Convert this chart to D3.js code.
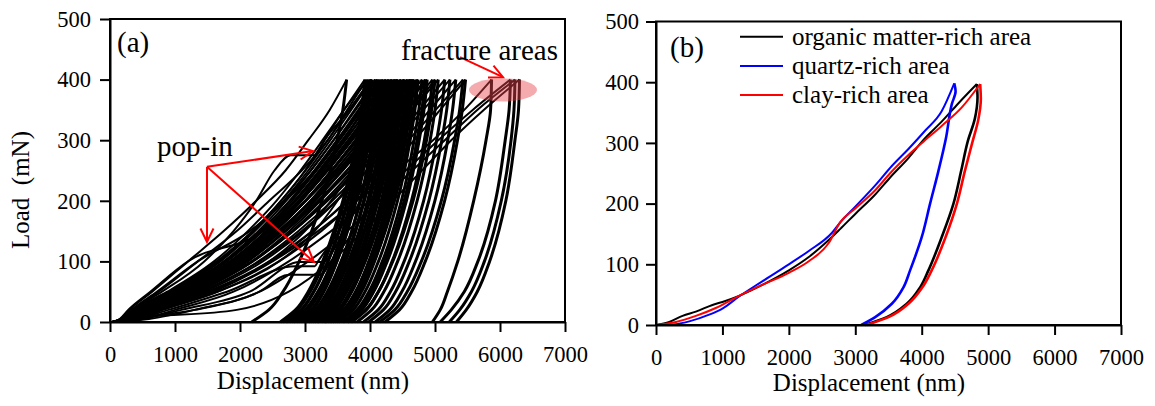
<!DOCTYPE html>
<html>
<head>
<meta charset="utf-8">
<title>Load-displacement curves</title>
<script src="https://d3js.org/d3.v7.min.js"></script>
<style>
  body { margin: 0; background: #fff; }
  text { font-family: "Liberation Serif", "Times New Roman", serif; fill: #000; }
</style>
</head>
<body>
<svg id="chart" width="1155" height="406"></svg>
<script>
// ---- axis ticks ----
var xTicks = [0, 1000, 2000, 3000, 4000, 5000, 6000, 7000];
var yTicks = [0, 100, 200, 300, 400, 500];

// ---- panel (a): displacement (nm) read at fixed load levels (mN) ----
var loadLevels = [0, 5, 20, 50, 100, 150, 200, 250, 300, 350, 400];
var unloadLevels = [400, 350, 300, 200, 100, 50, 20, 0];

var loadingA = [
  [30, 160, 300, 650, 1200, 1750, 2250, 2700, 3050, 3380, 3640],
  [40, 190, 350, 750, 1350, 1950, 2450, 2950, 3350, 3650, 3950],
  [20, 150, 280, 620, 1200, 2350, 2850, 3250, 3600, 3880, 4120],
  [30, 170, 330, 720, 1350, 2150, 2700, 3150, 3520, 3830, 4080],
  [30, 180, 350, 800, 1450, 1900, 2250, 2530, 3300, 3680, 4020],
  [60, 500, 1100, 2150, 3300, 3600, 3850, 4080, 4280, 4470, 4650],
  [50, 600, 1300, 2300, 3400, 3750, 4020, 4260, 4470, 4670, 4850],
  [40, 420, 900, 1800, 3200, 3520, 3780, 4000, 4170, 4300, 4400],
  [50, 380, 800, 1650, 2600, 3150, 3500, 3800, 4060, 4300, 4520],
  [60, 340, 700, 1500, 2450, 3000, 3400, 3740, 4050, 4340, 4620],
  [40, 210, 400, 955, 1670, 2190, 2630, 3000, 3300, 3600, 3980],
  [50, 220, 420, 980, 1700, 2230, 2670, 3050, 3390, 3710, 4030],
  [40, 200, 380, 920, 1640, 2200, 2680, 3090, 3440, 3760, 4080],
  [60, 240, 450, 1050, 1780, 2320, 2760, 3140, 3490, 3820, 4150],
  [50, 230, 430, 1000, 1760, 2310, 2770, 3170, 3530, 3870, 4200],
  [70, 250, 480, 1100, 1850, 2400, 2840, 3220, 3580, 3920, 4250],
  [40, 210, 400, 980, 1780, 2350, 2840, 3250, 3620, 3960, 4300],
  [80, 280, 520, 1150, 1900, 2450, 2900, 3290, 3660, 4000, 4340],
  [60, 250, 470, 1080, 1850, 2420, 2900, 3320, 3700, 4050, 4390],
  [50, 230, 440, 1050, 1860, 2440, 2930, 3350, 3730, 4090, 4430],
  [90, 300, 560, 1200, 1980, 2540, 3000, 3400, 3780, 4130, 4480],
  [70, 270, 500, 1130, 1930, 2510, 3000, 3420, 3810, 4170, 4530],
  [60, 250, 470, 1100, 1930, 2520, 3020, 3460, 3850, 4220, 4580],
  [100, 320, 600, 1250, 2050, 2620, 3090, 3520, 3900, 4270, 4630],
  [80, 290, 540, 1180, 2000, 2590, 3090, 3530, 3930, 4310, 4680],
  [70, 270, 500, 1150, 1990, 2600, 3120, 3580, 3990, 4370, 4740],
  [110, 340, 620, 1300, 2120, 2710, 3200, 3640, 4040, 4420, 4800],
  [90, 300, 560, 1230, 2080, 2700, 3220, 3690, 4100, 4490, 4880],
  [120, 360, 650, 1350, 2200, 2820, 3330, 3780, 4180, 4570, 4960],
  [100, 330, 600, 1300, 2180, 2820, 3350, 3820, 4250, 4650, 5050],
  [140, 390, 700, 1450, 2350, 2980, 3490, 3950, 4360, 4760, 5150],
  [120, 360, 660, 1400, 2300, 2950, 3480, 3960, 4400, 4820, 5230],
  [150, 420, 750, 1550, 2480, 3120, 3640, 4100, 4520, 4920, 5320],
  [130, 390, 700, 1500, 2450, 3110, 3660, 4150, 4590, 5010, 5430],
  [160, 450, 800, 1650, 2600, 3250, 3780, 4250, 4680, 5080, 5470],
  [30, 180, 360, 880, 1600, 2120, 2560, 2930, 3270, 3600, 3920],
  [40, 200, 420, 960, 1680, 2200, 2630, 3010, 3350, 3680, 4010],
  [50, 230, 460, 1020, 1750, 2280, 2710, 3090, 3440, 3780, 4110],
  [40, 220, 450, 1030, 1800, 2350, 2800, 3180, 3530, 3860, 4180],
  [60, 260, 520, 1120, 1870, 2400, 2840, 3220, 3570, 3910, 4230],
  [50, 240, 480, 1080, 1850, 2400, 2860, 3260, 3620, 3960, 4280],
  [70, 290, 560, 1180, 1950, 2500, 2950, 3330, 3680, 4010, 4330],
  [40, 230, 470, 1090, 1900, 2470, 2940, 3350, 3720, 4050, 4370],
  [80, 300, 580, 1200, 1990, 2550, 3010, 3410, 3770, 4100, 4420],
  [60, 270, 530, 1150, 1950, 2530, 3010, 3420, 3790, 4140, 4470],
  [90, 320, 620, 1250, 2050, 2620, 3080, 3480, 3840, 4190, 4520],
  [70, 290, 560, 1180, 2000, 2600, 3090, 3510, 3880, 4230, 4570],
  [100, 340, 660, 1300, 2120, 2690, 3160, 3560, 3930, 4280, 4610],
  [80, 310, 600, 1240, 2060, 2650, 3150, 3580, 3960, 4320, 4660],
  [110, 360, 700, 1350, 2180, 2760, 3240, 3650, 4020, 4380, 4720],
  [100, 350, 680, 1330, 2200, 2800, 3300, 3730, 4110, 4480, 4850],
  [120, 380, 720, 1400, 2280, 2900, 3420, 3870, 4260, 4640, 5000],
  [50, 400, 800, 1600, 2500, 3200, 3800, 4400, 4970, 5450, 5870],
  [50, 500, 1000, 1900, 2750, 3400, 4000, 4550, 5050, 5580, 6160],
  [50, 300, 1300, 2300, 3050, 3650, 4150, 4650, 5150, 5650, 6230],
  [50, 280, 1950, 2750, 3400, 3900, 4350, 4800, 5250, 5750, 6300]
];

var unloadingA = [
  [3640, 3582, 3494, 3260, 2910, 2662, 2443, 2180],
  [3950, 3900, 3820, 3610, 3300, 3080, 2880, 2650],
  [4120, 4067, 3988, 3777, 3460, 3236, 3038, 2800],
  [4080, 4027, 3948, 3737, 3420, 3196, 2998, 2760],
  [4020, 3972, 3900, 3708, 3420, 3216, 3036, 2820],
  [4650, 4602, 4530, 4338, 4050, 3846, 3666, 3450],
  [4850, 4802, 4730, 4538, 4250, 4046, 3866, 3650],
  [4400, 4352, 4280, 4088, 3800, 3596, 3416, 3200],
  [4520, 4472, 4400, 4208, 3920, 3716, 3536, 3300],
  [4620, 4571, 4498, 4303, 4010, 3803, 3620, 3400],
  [3980, 3930, 3854, 3652, 3350, 3136, 2947, 2720],
  [4030, 3982, 3909, 3715, 3425, 3219, 3038, 2820],
  [4080, 4033, 3962, 3773, 3490, 3289, 3112, 2900],
  [4150, 4103, 4033, 3846, 3565, 3366, 3191, 2980],
  [4200, 4154, 4085, 3901, 3625, 3430, 3257, 3050],
  [4250, 4198, 4120, 3912, 3600, 3379, 3184, 2950],
  [4300, 4253, 4182, 3993, 3710, 3509, 3332, 3120],
  [4340, 4294, 4224, 4038, 3760, 3563, 3389, 3180],
  [4390, 4338, 4259, 4049, 3735, 3512, 3316, 3080],
  [4430, 4383, 4312, 4123, 3840, 3639, 3462, 3250],
  [4480, 4433, 4362, 4173, 3890, 3689, 3512, 3300],
  [4530, 4477, 4397, 4184, 3865, 3639, 3439, 3200],
  [4580, 4532, 4460, 4268, 3980, 3776, 3596, 3380],
  [4630, 4582, 4510, 4318, 4030, 3826, 3646, 3430],
  [4680, 4627, 4547, 4334, 4015, 3789, 3589, 3350],
  [4740, 4691, 4618, 4423, 4130, 3923, 3740, 3520],
  [4800, 4751, 4678, 4483, 4190, 3983, 3800, 3580],
  [4880, 4831, 4757, 4560, 4265, 4056, 3871, 3650],
  [4960, 4910, 4836, 4638, 4340, 4129, 3943, 3720],
  [5050, 5000, 4925, 4725, 4425, 4213, 4025, 3800],
  [5150, 5100, 5025, 4825, 4525, 4313, 4125, 3900],
  [5230, 5180, 5105, 4905, 4605, 4393, 4205, 3980],
  [5320, 5270, 5196, 4998, 4700, 4489, 4303, 4080],
  [5430, 5379, 5302, 5097, 4790, 4572, 4380, 4150],
  [5470, 5420, 5346, 5148, 4850, 4639, 4453, 4230],
  [3920, 3868, 3790, 3582, 3270, 3049, 2854, 2620],
  [4010, 3958, 3879, 3669, 3355, 3132, 2936, 2700],
  [4110, 4060, 3986, 3788, 3490, 3279, 3093, 2870],
  [4180, 4130, 4055, 3855, 3555, 3343, 3155, 2930],
  [4230, 4181, 4107, 3910, 3615, 3406, 3221, 3000],
  [4280, 4231, 4158, 3963, 3670, 3463, 3280, 3060],
  [4330, 4277, 4198, 3987, 3670, 3446, 3248, 3010],
  [4370, 4321, 4247, 4050, 3755, 3546, 3361, 3140],
  [4420, 4371, 4298, 4103, 3810, 3603, 3420, 3200],
  [4470, 4417, 4338, 4127, 3810, 3586, 3388, 3150],
  [4520, 4472, 4400, 4208, 3920, 3716, 3536, 3320],
  [4570, 4518, 4441, 4235, 3925, 3706, 3512, 3280],
  [4610, 4562, 4491, 4301, 4015, 3813, 3634, 3420],
  [4660, 4613, 4542, 4353, 4070, 3869, 3692, 3480],
  [4720, 4667, 4588, 4377, 4060, 3836, 3638, 3400],
  [4850, 4800, 4725, 4525, 4225, 4013, 3825, 3600],
  [5000, 4948, 4870, 4662, 4350, 4129, 3934, 3700],
  [5870, 5855, 5785, 5595, 5350, 5190, 5080, 4960],
  [6160, 6140, 6080, 5930, 5660, 5450, 5250, 5080],
  [6230, 6215, 6170, 6020, 5760, 5560, 5380, 5220],
  [6300, 6285, 6230, 6090, 5840, 5650, 5480, 5330]
];

// pop-in plateaus: [curve index, load, start displacement, end displacement]
var popInsA = [
  [4, 275, 2780, 3150],
  [5, 99, 2920, 3280],
  [6, 78, 2750, 3250],
  [7, 92, 2850, 3150]
];

// annotations, data coordinates: [x0, y0, x1 (tip), y1 (tip)]
var arrowsA = [
  [1492, 256, 1492, 132],
  [1492, 256, 3123, 282],
  [1492, 256, 3138, 99],
  [5385, 437, 6046, 404]
];
var fractureZone = { cx: 6046, cy: 383, rx: 523, ry: 19 };

// ---- panel (b) ----
var legendNames = ['organic matter-rich area', 'quartz-rich area', 'clay-rich area'];
var seriesColors = ['#000000', '#0000ff', '#ff0000'];

var organicLoad = [[0, 0], [200, 5], [400, 15], [600, 22], [850, 33], [1000, 38], [1250, 48], [1600, 66],
  [2000, 90], [2300, 112], [2600, 140], [2771, 158], [3000, 183], [3300, 215], [3524, 243], [3800, 275],
  [4026, 305], [4300, 335], [4550, 365], [4830, 397]];
var organicUnload = [[3140, 0], [3474, 13], [3775, 35], [3976, 62], [4101, 90], [4302, 145], [4478, 200],
  [4594, 254], [4694, 303], [4800, 340], [4840, 375], [4830, 397]];

var quartzLoad = [[0, 0], [250, 1], [500, 6], [800, 17], [1000, 27], [1250, 47], [1600, 72], [2000, 100],
  [2300, 122], [2650, 152], [2780, 170], [3000, 195], [3300, 230], [3550, 262], [3800, 290], [4050, 320],
  [4300, 352], [4490, 398]];
var quartzUnload = [[3090, 0], [3300, 13], [3550, 35], [3725, 62], [3825, 90], [4001, 145], [4126, 200],
  [4252, 254], [4367, 309], [4453, 364], [4510, 385], [4490, 398]];

var clayLoad = [[0, 0], [300, 5], [600, 15], [900, 28], [1250, 48], [1600, 66], [2000, 86], [2300, 105],
  [2600, 135], [2771, 169], [3000, 192], [3300, 222], [3524, 250], [3800, 280], [4026, 302], [4300, 328],
  [4600, 358], [4880, 397]];
var clayUnload = [[3170, 0], [3500, 13], [3800, 35], [4010, 62], [4150, 90], [4360, 145], [4530, 200],
  [4650, 254], [4760, 300], [4855, 340], [4890, 372], [4880, 397]];

var svg = d3.select('#chart');
var FONT = '"Liberation Serif", "Times New Roman", serif';

function drawAxes(x, y, yPad) {
  var g = svg.append('g');
  var gx = g.append('g')
    .attr('transform', 'translate(0,' + y(0) + ')')
    .call(d3.axisBottom(x).tickValues(xTicks).tickSize(10).tickSizeOuter(0).tickPadding(14).tickFormat(d3.format('d')));
  var gy = g.append('g')
    .attr('transform', 'translate(' + x(0) + ',0)')
    .call(d3.axisLeft(y).tickValues(yTicks).tickSize(10).tickSizeOuter(0).tickPadding(yPad));
  [gx, gy].forEach(function(a) {
    a.attr('font-size', 22.5).attr('font-family', FONT);
    a.selectAll('.domain, .tick line').attr('stroke', '#000').attr('stroke-width', 2);
    a.selectAll('.tick text').attr('fill', '#000');
  });
  g.append('rect')
    .attr('x', x(0)).attr('y', y(500))
    .attr('width', x(7000) - x(0)).attr('height', y(0) - y(500))
    .attr('fill', 'none').attr('stroke', '#000').attr('stroke-width', 2);
  return g;
}

// ---------- panel (a) ----------
var xa = d3.scaleLinear().domain([0, 7000]).range([110, 565]);
var ya = d3.scaleLinear().domain([0, 500]).range([322, 19]);

var lineA = d3.line().x(function(d) { return xa(d[0]); }).y(function(d) { return ya(d[1]); })
  .curve(d3.curveMonotoneX);
var lineAU = d3.line().x(function(d) { return xa(d[0]); }).y(function(d) { return ya(d[1]); })
  .curve(d3.curveMonotoneY);

var curvesA = svg.append('g').attr('fill', 'none').attr('stroke', '#000')
  .attr('stroke-linejoin', 'round');

loadingA.forEach(function(disp, i) {
  var pts = loadLevels.map(function(L, j) { return [disp[j], L]; });
  popInsA.filter(function(p) { return p[0] === i; }).forEach(function(p) {
    pts.push([p[2], p[1]], [p[3], p[1]]);
  });
  pts.sort(function(a, b) { return a[0] - b[0]; });
  curvesA.append('path').attr('d', lineA(pts)).attr('stroke-width', 2);

  var up = unloadLevels.map(function(L, j) { return [unloadingA[i][j], L]; });
  up.sort(function(a, b) { return a[1] - b[1]; });
  curvesA.append('path').attr('d', lineAU(up)).attr('stroke-width', 3);
});

drawAxes(xa, ya, 9);

svg.append('ellipse')
  .attr('cx', xa(fractureZone.cx)).attr('cy', ya(fractureZone.cy))
  .attr('rx', xa(fractureZone.rx) - xa(0)).attr('ry', ya(0) - ya(fractureZone.ry))
  .attr('fill', '#e8454a').attr('fill-opacity', 0.45);

function arrow(a) {
  var x0 = xa(a[0]), y0 = ya(a[1]), x1 = xa(a[2]), y1 = ya(a[3]);
  var ang = Math.atan2(y1 - y0, x1 - x0), len = 15, spread = 0.45;
  svg.append('line').attr('x1', x0).attr('y1', y0).attr('x2', x1).attr('y2', y1)
    .attr('stroke', '#ff0000').attr('stroke-width', 2);
  var head = [
    [x1 - len * Math.cos(ang - spread), y1 - len * Math.sin(ang - spread)],
    [x1, y1],
    [x1 - len * Math.cos(ang + spread), y1 - len * Math.sin(ang + spread)]
  ];
  svg.append('polyline').attr('points', head.join(' '))
    .attr('fill', 'none').attr('stroke', '#ff0000').attr('stroke-width', 2);
}
arrowsA.forEach(arrow);

svg.append('text').attr('x', 117).attr('y', 52).attr('font-size', 29).text('(a)');
svg.append('text').attr('x', 401).attr('y', 60).attr('font-size', 29).text('fracture areas');
svg.append('text').attr('x', 157).attr('y', 156).attr('font-size', 29).text('pop-in');
svg.append('text').attr('x', 313).attr('y', 389).attr('font-size', 25)
  .attr('text-anchor', 'middle').text('Displacement (nm)');
svg.append('text').attr('transform', 'translate(29,190) rotate(-90)')
  .attr('font-size', 25).attr('text-anchor', 'middle').style('white-space', 'pre')
  .text('Load  (mN)');

// ---------- panel (b) ----------
var xb = d3.scaleLinear().domain([0, 7000]).range([656, 1121]);
var yb = d3.scaleLinear().domain([0, 500]).range([325, 21.5]);

var lineB = d3.line().x(function(d) { return xb(d[0]); }).y(function(d) { return yb(d[1]); })
  .curve(d3.curveMonotoneX);
var lineBU = d3.line().x(function(d) { return xb(d[0]); }).y(function(d) { return yb(d[1]); })
  .curve(d3.curveMonotoneY);

var seriesB = [
  { load: organicLoad, unload: organicUnload },
  { load: quartzLoad, unload: quartzUnload },
  { load: clayLoad, unload: clayUnload }
];

var curvesB = svg.append('g').attr('fill', 'none').attr('stroke-linejoin', 'round');
seriesB.forEach(function(s, i) {
  curvesB.append('path').attr('d', lineB(s.load)).attr('stroke', seriesColors[i]).attr('stroke-width', 2);
  curvesB.append('path').attr('d', lineBU(s.unload)).attr('stroke', seriesColors[i]).attr('stroke-width', 2.6);
});

drawAxes(xb, yb, 7);

var legend = svg.append('g');
legendNames.forEach(function(name, i) {
  var yy = 36.7 + i * 29.2;
  legend.append('line').attr('x1', 740).attr('x2', 783).attr('y1', yy).attr('y2', yy)
    .attr('stroke', seriesColors[i]).attr('stroke-width', 2);
  legend.append('text').attr('x', 792).attr('y', yy + 8).attr('font-size', 25).text(name);
});

svg.append('text').attr('x', 670).attr('y', 57).attr('font-size', 29).text('(b)');
svg.append('text').attr('x', 869).attr('y', 391).attr('font-size', 25)
  .attr('text-anchor', 'middle').text('Displacement (nm)');
</script>
</body>
</html>
